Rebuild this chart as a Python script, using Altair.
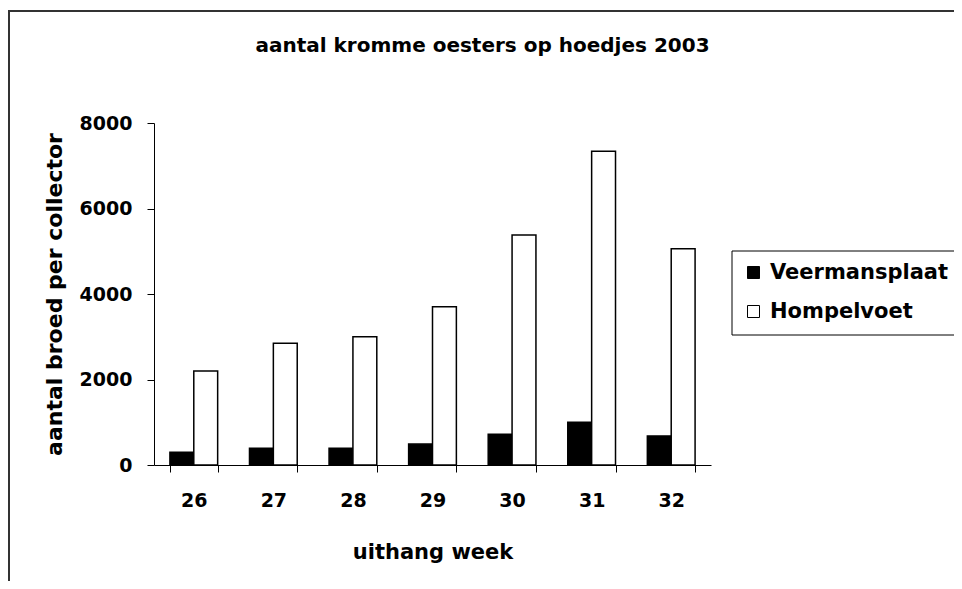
import altair as alt
import pandas as pd

weeks = ["26", "27", "28", "29", "30", "31", "32"]
veermansplaat = [300, 390, 390, 490, 720, 1000, 680]
hompelvoet = [2200, 2850, 3000, 3700, 5380, 7340, 5060]
series = ["Veermansplaat", "Hompelvoet"]
y_ticks = [0, 2000, 4000, 6000, 8000]
title_text = "aantal kromme oesters op hoedjes 2003"

rows = []
for i, w in enumerate(weeks):
    rows.append({"week": w, "series": series[0], "value": veermansplaat[i]})
    rows.append({"week": w, "series": series[1], "value": hompelvoet[i]})
df = pd.DataFrame(rows)

FONT = "DejaVu Sans"
W, H = 557, 342

common_axis = dict(
    labelFont=FONT, titleFont=FONT, labelFontWeight="bold", titleFontWeight="bold",
    labelColor="black", titleColor="black", domainColor="black", tickColor="black",
    domainWidth=1, tickWidth=1, grid=False,
)

bars = alt.Chart(df).mark_bar(stroke="black", strokeWidth=1.5).encode(
    x=alt.X(
        "week:N", sort=weeks,
        scale=alt.Scale(paddingInner=0.4, paddingOuter=0.2),
        axis=alt.Axis(
            title="uithang week", labelAngle=0, tickBand="extent",
            tickSize=7, labelPadding=19, labelFontSize=19,
            titleFontSize=21, titleY=93, titleBaseline="alphabetic",
            **common_axis,
        ),
    ),
    xOffset=alt.XOffset("series:N", sort=series,
                        scale=alt.Scale(paddingInner=0, paddingOuter=0)),
    y=alt.Y(
        "value:Q",
        scale=alt.Scale(domain=[0, 8000], nice=False),
        axis=alt.Axis(
            title="aantal broed per collector", values=y_ticks, format="d",
            tickSize=7, labelPadding=15, labelFontSize=19,
            titleFontSize=22, titleX=-93, titleY=H / 2,
            titleBaseline="alphabetic", titleAlign="center", titleAngle=270,
            **common_axis,
        ),
    ),
    color=alt.Color(
        "series:N", sort=series,
        scale=alt.Scale(domain=series, range=["black", "white"]),
        legend=alt.Legend(
            title=None, orient="none", legendX=589, legendY=139, padding=0,
            labelFont=FONT, labelFontSize=21, labelFontWeight="bold",
            labelColor="black", labelOffset=6, labelLimit=0,
            symbolType="square", symbolSize=144,
            symbolStrokeColor="black", symbolStrokeWidth=1,
            rowPadding=17,
        ),
    ),
)

one = alt.Data(values=[{}])

title_mark = alt.Chart(one).mark_text(
    font=FONT, fontSize=20, fontWeight="bold", color="black",
    align="center", baseline="alphabetic",
).encode(x=alt.value(W / 2 + 50), y=alt.value(-71), text=alt.value(title_text))

legend_box = alt.Chart(one).mark_rect(
    fill="white", fillOpacity=0, stroke="black", strokeWidth=1
).encode(x=alt.value(578), x2=alt.value(830), y=alt.value(128), y2=alt.value(212))

frame_top = alt.Chart(one).mark_rule(
    color="#333333", strokeWidth=2
).encode(x=alt.value(-146), x2=alt.value(820), y=alt.value(-112))

frame_left = alt.Chart(one).mark_rule(
    color="#333333", strokeWidth=2
).encode(x=alt.value(-145), y=alt.value(-112), y2=alt.value(458))

chart = alt.layer(bars, legend_box, title_mark, frame_top, frame_left).properties(
    width=W, height=H,
    autosize=alt.AutoSizeParams(type="none"),
    padding={"left": 146, "top": 115, "right": 243, "bottom": 116},
    background="white",
).configure_view(stroke=None)

chart.save("out.html", embed_options={"renderer": "svg", "actions": False})
